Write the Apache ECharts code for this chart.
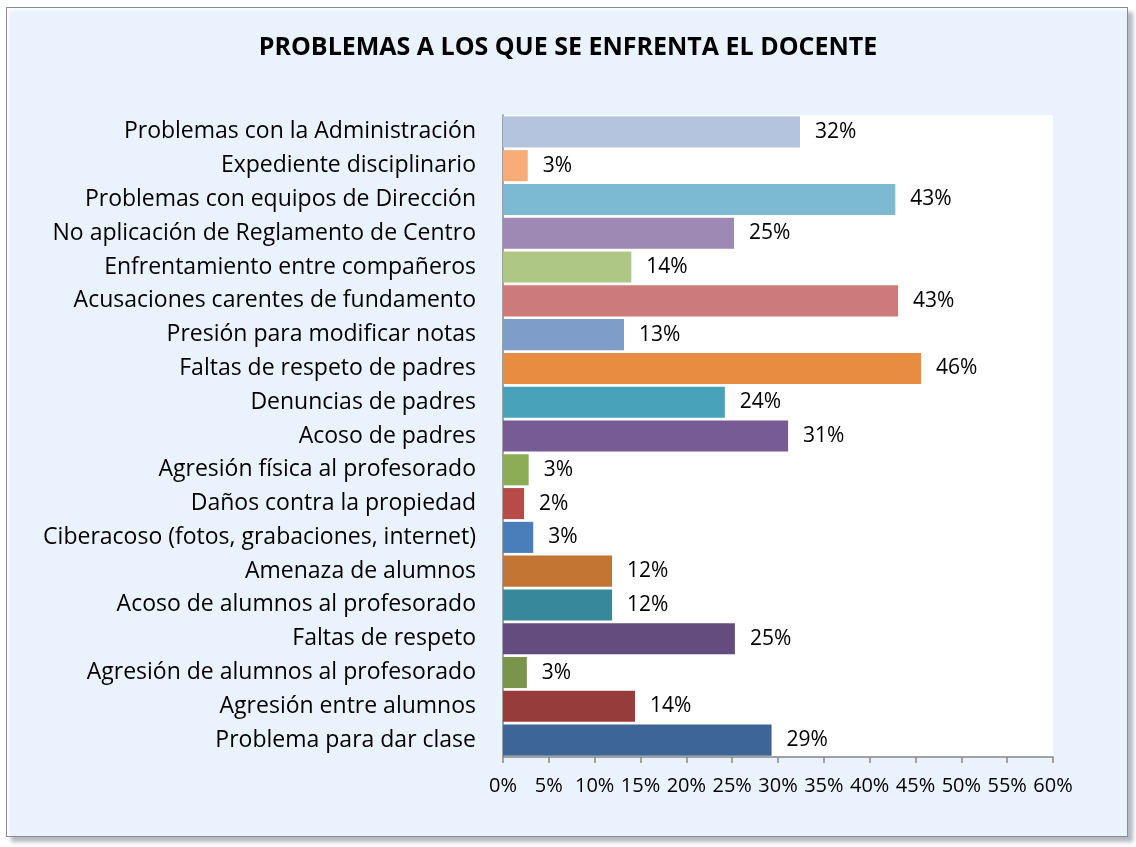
<!DOCTYPE html>
<html>
<head>
<meta charset="utf-8">
<script src="https://cdn.jsdelivr.net/npm/echarts@6/dist/echarts.min.js"></script>
<style>
  html, body { margin: 0; padding: 0; background: #fff; }
  #frame {
    position: absolute; left: 6px; top: 7px; width: 1120px; height: 828px;
    background: #eaf3fd; border: 1px solid #8c8c8c;
    box-shadow: 5px 5px 4px #b3b9c3, inset 2px 2px 3px #fdfeff;
  }
  #chart { position: absolute; left: 0; top: 0; width: 1136px; height: 847px; }
</style>
</head>
<body>
<div id="frame"></div>
<div id="chart"></div>
<script>
var categories = [
  'Problemas con la Administración',
  'Expediente disciplinario',
  'Problemas con equipos de Dirección',
  'No aplicación de Reglamento de Centro',
  'Enfrentamiento entre compañeros',
  'Acusaciones carentes de fundamento',
  'Presión para modificar notas',
  'Faltas de respeto de padres',
  'Denuncias de padres',
  'Acoso de padres',
  'Agresión física al profesorado',
  'Daños contra la propiedad',
  'Ciberacoso (fotos, grabaciones, internet)',
  'Amenaza de alumnos',
  'Acoso de alumnos al profesorado',
  'Faltas de respeto',
  'Agresión de alumnos al profesorado',
  'Agresión entre alumnos',
  'Problema para dar clase'
];
var values = [32.4, 2.7, 42.8, 25.2, 14.0, 43.1, 13.2, 45.6, 24.2, 31.1, 2.8, 2.3, 3.3, 11.9, 11.9, 25.3, 2.6, 14.4, 29.3];
var colors = ['#b4c4df', '#f9ab78', '#7bbad0', '#9d89b4', '#afc785', '#cc7b7a', '#7e9dc9', '#e88c41', '#48a2ba', '#775b94', '#8cac55', '#b64b48', '#4a7ebb', '#c37534', '#378899', '#644c7f', '#79954a', '#963d3b', '#3d6595'];
var xTicks = { min: 0, max: 60, interval: 5 };

var chart = echarts.init(document.getElementById('chart'));
var font = '"Open Sans", sans-serif';

chart.setOption({
  backgroundColor: 'transparent',
  title: {
    text: 'PROBLEMAS A LOS QUE SE ENFRENTA EL DOCENTE',
    left: 'center',
    top: 30,
    textStyle: { fontFamily: font, fontSize: 25, fontWeight: 'bold', color: '#000' }
  },
  grid: {
    left: 503, right: 83, top: 115, bottom: 90,
    show: true, backgroundColor: '#fff', borderWidth: 0
  },
  xAxis: {
    type: 'value',
    min: xTicks.min, max: xTicks.max, interval: xTicks.interval,
    splitLine: { show: false },
    axisLine: { show: true, lineStyle: { color: '#868686', width: 1.5 } },
    axisTick: { show: true, length: 6, lineStyle: { color: '#868686', width: 1.5 } },
    axisLabel: { formatter: '{value}%', margin: 19, fontFamily: font, fontSize: 20, color: '#000' }
  },
  yAxis: {
    type: 'category',
    inverse: true,
    data: categories,
    axisLine: { lineStyle: { color: '#868686', width: 1.5 } },
    axisTick: { length: 8, lineStyle: { color: '#868686', width: 1.5 } },
    axisLabel: { margin: 27, fontFamily: font, fontSize: 23, color: '#000' }
  },
  series: [{
    type: 'bar',
    barCategoryGap: '8%',
    data: values.map(function (v, i) {
      return { value: v, itemStyle: { color: colors[i] } };
    }),
    label: {
      show: true,
      position: 'right',
      distance: 15,
      fontFamily: font,
      fontSize: 21,
      color: '#000',
      formatter: function (p) { return Math.round(p.value) + '%'; }
    }
  }]
});
</script>
</body>
</html>
